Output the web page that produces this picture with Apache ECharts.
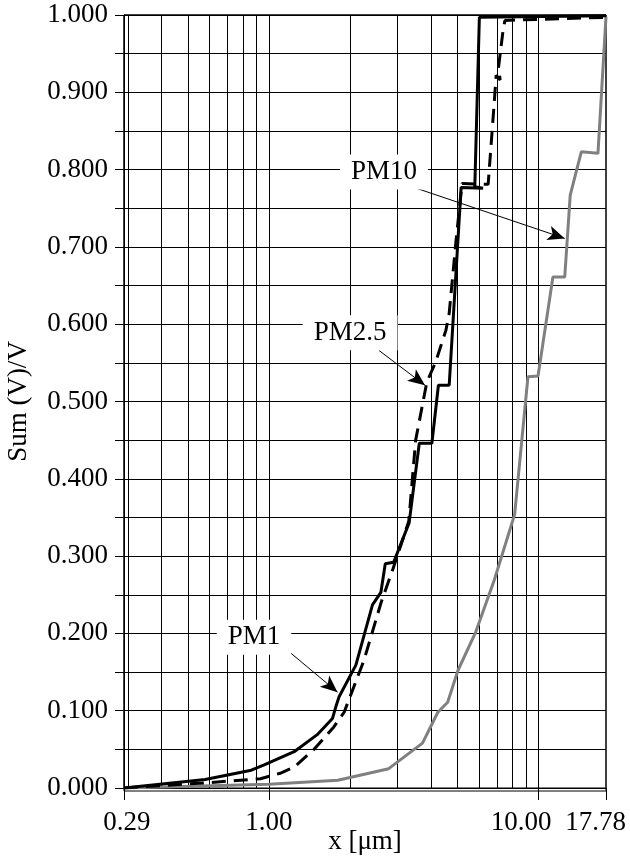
<!DOCTYPE html>
<html>
<head>
<meta charset="utf-8">
<script src="https://cdn.jsdelivr.net/npm/echarts@6/dist/echarts.min.js"></script>
<style>
html,body{margin:0;padding:0;background:#fff;}
#chart{width:630px;height:857px;}
</style>
</head>
<body>
<div id="chart"></div>
<script>
// ---- data ----
const pm1X = [0.29, 0.58, 0.86, 0.96, 1.24, 1.51, 1.72, 1.77, 1.82, 2.10, 2.42, 2.60, 2.70, 2.90, 3.31, 3.61, 4.02, 4.25, 4.66, 5.16, 6.22, 5.80, 6.03, 17.78];
const pm1Y = [0.000, 0.011, 0.023, 0.030, 0.047, 0.069, 0.090, 0.105, 0.118, 0.159, 0.237, 0.253, 0.290, 0.292, 0.343, 0.446, 0.446, 0.521, 0.521, 0.777, 0.776, 0.778, 0.997, 0.999];

const pm25X = [0.29, 0.60, 0.93, 1.10, 1.24, 1.47, 1.74, 1.90, 2.25, 2.60, 2.88, 3.30, 3.50, 3.85, 4.15, 4.53, 4.66, 4.94, 5.20, 6.50, 6.85, 6.96, 7.20, 7.10, 7.37, 7.50, 17.78];
const pm25Y = [0.000, 0.007, 0.012, 0.019, 0.027, 0.050, 0.079, 0.098, 0.165, 0.239, 0.283, 0.345, 0.450, 0.525, 0.551, 0.592, 0.614, 0.708, 0.782, 0.781, 0.888, 0.922, 0.916, 0.932, 0.978, 0.993, 0.997];

const pm10X = [0.29, 1.00, 1.80, 2.78, 3.71, 4.23, 4.60, 5.02, 5.85, 6.85, 8.15, 9.13, 9.95, 11.3, 12.5, 13.1, 14.4, 16.6, 17.78];
const pm10Y = [0.000, 0.005, 0.010, 0.025, 0.058, 0.098, 0.111, 0.152, 0.202, 0.269, 0.354, 0.532, 0.533, 0.661, 0.661, 0.767, 0.823, 0.821, 0.998];

const xMin = 0.29, xMax = 17.78;
const yMin = 0, yMax = 1, yStep = 0.05;
const gridXValues = [0.3, 0.4, 0.5, 0.6, 0.7, 0.8, 0.9, 1, 2, 3, 4, 5, 6, 7, 8, 9, 10];

const annLabels = ['PM10', 'PM2.5', 'PM1'];
const annLabelPos = [[2.67, 0.797], [2.0, 0.589], [0.88, 0.195]];
const annArrows = [
  [[3.51, 0.776], [12.5, 0.711]],
  [[2.56, 0.566], [3.79, 0.521]],
  [[1.154, 0.180], [1.796, 0.124]]
];

const FONT = '"Liberation Serif", "DejaVu Serif", serif';
const FS = 27;
const zip = (xs, ys) => xs.map((x, i) => [x, ys[i]]);

const chart = echarts.init(document.getElementById('chart'), null, {renderer: 'canvas'});
chart.setOption({
  animation: false,
  backgroundColor: '#fff',
  grid: [
    {left: 124, right: 24, top: 15, bottom: 69, containLabel: false, outerBoundsMode: 'none',
     show: true, borderColor: '#000', borderWidth: 1, backgroundColor: 'transparent'},
    {left: 124, right: 24, top: 15, bottom: 66, containLabel: false, outerBoundsMode: 'none',
     show: true, borderColor: '#000', borderWidth: 1, backgroundColor: 'transparent'}
  ],
  xAxis: [
    {
      type: 'log', logBase: 10, min: xMin, max: xMax, gridIndex: 0,
      name: 'x [μm]', nameLocation: 'middle', nameGap: 40, nameMoveOverlap: false,
      nameTextStyle: {fontFamily: FONT, fontSize: FS, color: '#000'},
      axisLine: {show: true, lineStyle: {color: '#000', width: 1}},
      axisTick: {show: true, length: 12, lineStyle: {color: '#000', width: 1}},
      splitLine: {show: false},
      minorTick: {show: false},
      axisLabel: {
        margin: 21, color: '#000', fontFamily: FONT, fontSize: FS, hideOverlap: false,
        formatter: function (v) {
          const s = v.toFixed(2);
          if (v > 15) return '{r|' + s + '}';
          if (v > 5) return '{t|' + s + '}';
          if (v < 0.5) return '{l|' + s + '}';
          return '{n|' + s + '}';
        },
        rich: {
          r: {fontFamily: FONT, fontSize: FS, color: '#000', width: 40, align: 'right'},
          t: {fontFamily: FONT, fontSize: FS, color: '#000', width: 26, align: 'right'},
          l: {fontFamily: FONT, fontSize: FS, color: '#000', width: 53, align: 'right'},
          n: {fontFamily: FONT, fontSize: FS, color: '#000'}
        }
      }
    },
    {type: 'value', gridIndex: 1, show: false, min: 0, max: 1}
  ],
  yAxis: [
    {
      type: 'value', min: yMin, max: yMax, interval: yStep, gridIndex: 0,
      name: 'Sum (V)/V', nameLocation: 'middle', nameGap: 92,
      nameTextStyle: {fontFamily: FONT, fontSize: FS, color: '#000'},
      axisLine: {show: true, lineStyle: {color: '#000', width: 1}},
      axisTick: {show: true, length: 9, lineStyle: {color: '#000', width: 1}},
      splitLine: {show: true, lineStyle: {color: '#000', width: 1}},
      axisLabel: {
        margin: 16, color: '#000', fontFamily: FONT, fontSize: FS,
        formatter: function (v) {
          return (Math.round(v * 100) % 10 === 0) ? v.toFixed(3) : '';
        }
      }
    },
    {type: 'value', gridIndex: 1, show: false, min: 0, max: 1}
  ],
  series: [
    {
      name: 'gridlines', type: 'line', data: [], xAxisIndex: 0, yAxisIndex: 0, silent: true,
      markLine: {
        z: 1, silent: true, symbol: ['none', 'none'], animation: false,
        label: {show: false},
        lineStyle: {color: '#000', width: 1, type: 'solid'},
        data: gridXValues.map(v => ({xAxis: v}))
      }
    },
    {
      name: 'PM10', type: 'line', data: zip(pm10X, pm10Y), showSymbol: false, z: 3,
      lineStyle: {color: '#808080', width: 3}, itemStyle: {color: '#808080'}
    },
    {
      name: 'PM2.5', type: 'line', data: zip(pm25X, pm25Y), showSymbol: false, z: 3,
      lineStyle: {color: '#000', width: 3, type: [14, 8]}, itemStyle: {color: '#000'}
    },
    {
      name: 'PM1', type: 'line', data: zip(pm1X, pm1Y), showSymbol: false, z: 4,
      lineStyle: {color: '#000', width: 3}, itemStyle: {color: '#000'}
    },
    {
      name: 'annotations', type: 'line', data: [], silent: true,
      markLine: {
        z: 8, silent: true, symbol: ['none', 'arrow'], symbolSize: [11, 17], animation: false,
        label: {show: false},
        lineStyle: {color: '#000', width: 1, type: 'solid'},
        data: annArrows.map(a => [{coord: a[0]}, {coord: a[1]}])
      },
      markPoint: {
        z: 10, silent: true, symbol: 'rect', symbolSize: 0, animation: false,
        label: {
          show: true, position: 'inside', formatter: '{b}',
          color: '#000', fontFamily: FONT, fontSize: FS,
          backgroundColor: '#fff', padding: [4, 11]
        },
        data: annLabels.map((t, i) => ({name: t, coord: annLabelPos[i]}))
      }
    }
  ]
});
</script>
</body>
</html>
